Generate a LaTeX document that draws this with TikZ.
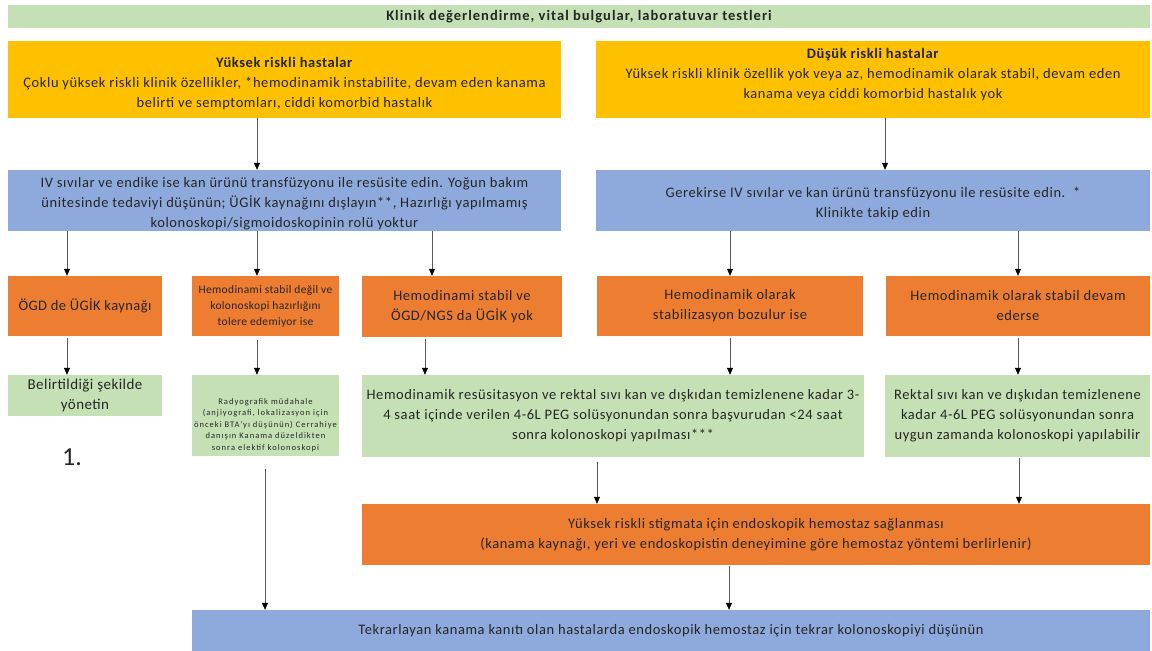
\documentclass[tikz,border=0pt]{standalone}
\usepackage{fontspec}
\setmainfont{Carlito}
\usepackage{tikz}
\usetikzlibrary{arrows.meta}

\definecolor{cGreen}{HTML}{C5E0B4}
\definecolor{cYellow}{HTML}{FFC000}
\definecolor{cBlue}{HTML}{8EA9DB}
\definecolor{cOrange}{HTML}{ED7D31}

\begin{document}
\begin{tikzpicture}[x=1pt,y=-1pt]
			\tikzset{box/.style = {shape=rectangle, inner sep=0pt, align=center,
					text=black!85, font=\fontsize{14.5}{20}\selectfont\addfontfeature{LetterSpace=4}}}
			\tikzset{edge/.style = {-{Triangle[width=6pt,length=7pt,color=black]},
					draw=black!65, line width=0.6pt}}

			\useasboundingbox (0,0) rectangle (1152,651);

			% vertices
			\node[box, fill=cGreen, minimum width=1142pt, minimum height=23pt,
				font=\bfseries\fontsize{14.5}{20}\selectfont\addfontfeature{LetterSpace=7}] (klinik) at (579,16.5)
				{Klinik değerlendirme, vital bulgular, laboratuvar testleri};

			\node[box, fill=cYellow, minimum width=553pt, minimum height=77pt] (yuksek) at (284.5,79.5)
				{\rule{0pt}{19pt}\textbf{Yüksek riskli hastalar}\\Çoklu yüksek riskli klinik özellikler, *hemodinamik instabilite, devam eden kanama\\belirti ve semptomları, ciddi komorbid hastalık};
			\node[box, fill=cYellow, minimum width=554pt, minimum height=77pt] (dusuk) at (873,79.5)
				{\textbf{Düşük riskli hastalar}\\Yüksek riskli klinik özellik yok veya az, hemodinamik olarak stabil, devam eden\\kanama veya ciddi komorbid hastalık yok\\[-7pt]\mbox{}};

			\node[box, fill=cBlue, minimum width=553pt, minimum height=61pt] (resL) at (284.5,200.5)
				{\rule{0pt}{17pt}IV sıvılar ve endike ise kan ürünü transfüzyonu ile resüsite edin. Yoğun bakım\\ünitesinde tedaviyi düşünün; ÜGİK kaynağını dışlayın**, Hazırlığı yapılmamış\\kolonoskopi/sigmoidoskopinin rolü yoktur};
			\node[box, fill=cBlue, minimum width=554pt, minimum height=61pt] (resR) at (873,200.5)
				{\rule{0pt}{17pt}Gerekirse IV sıvılar ve kan ürünü transfüzyonu ile resüsite edin.\ \ *\\Klinikte takip edin};

			\node[box, fill=cOrange, minimum width=154pt, minimum height=60pt,
				font=\fontsize{14.5}{20}\selectfont\addfontfeature{LetterSpace=3}] (ogd) at (85,306) {ÖGD de ÜGİK kaynağı};
			\node[box, fill=cOrange, minimum width=147pt, minimum height=60pt,
				font=\fontsize{11.5}{16}\selectfont\addfontfeature{LetterSpace=3}] (unstable) at (265.5,306)
				{Hemodinami stabil değil ve\\kolonoskopi hazırlığını\\tolere edemiyor ise};
			\node[box, fill=cOrange, minimum width=200pt, minimum height=61pt] (stable) at (462,306.5)
				{Hemodinami stabil ve\\ÖGD/NGS da ÜGİK yok};
			\node[box, fill=cOrange, minimum width=266pt, minimum height=60pt] (worse) at (730,306)
				{Hemodinamik olarak\\stabilizasyon bozulur ise};
			\node[box, fill=cOrange, minimum width=264pt, minimum height=60pt] (steady) at (1018,306)
				{Hemodinamik olarak stabil devam\\ederse};

			\node[box, fill=cGreen, minimum width=154pt, minimum height=41pt,
				font=\fontsize{15}{20}\selectfont\addfontfeature{LetterSpace=3}] (manage) at (85,395.5)
				{Belirtildiği şekilde\\yönetin};
			\node[box, fill=cGreen, minimum width=147pt, minimum height=81pt,
				font=\fontsize{8.5}{11.5}\selectfont\addfontfeature{LetterSpace=12}] (radio) at (265.5,415.5)
				{\rule{0pt}{25pt}Radyografik müdahale\\(anjiyografi, lokalizasyon için\\önceki BTA'yı düşünün) Cerrahiye\\danışın Kanama düzeldikten\\sonra elektif kolonoskopi};
			\node[box, fill=cGreen, minimum width=502pt, minimum height=82pt] (early) at (613,416)
				{Hemodinamik resüsitasyon ve rektal sıvı kan ve dışkıdan temizlenene kadar 3-\\4 saat içinde verilen 4-6L PEG solüsyonundan sonra başvurudan <24 saat\\sonra kolonoskopi yapılması***};
			\node[box, fill=cGreen, minimum width=265pt, minimum height=82pt] (later) at (1017.5,416)
				{Rektal sıvı kan ve dışkıdan temizlenene\\kadar 4-6L PEG solüsyonundan sonra\\uygun zamanda kolonoskopi yapılabilir};

			\node[text=black!85, font=\fontsize{26}{30}\selectfont] (num) at (72,457) {1.};

			\node[box, fill=cOrange, minimum width=788pt, minimum height=61pt] (hemostaz) at (756,534.5)
				{Yüksek riskli stigmata için endoskopik hemostaz sağlanması\\(kanama kaynağı, yeri ve endoskopistin deneyimine göre hemostaz yöntemi berlirlenir)};
			\node[box, fill=cBlue, minimum width=958pt, minimum height=41pt] (tekrar) at (671,630.5)
				{Tekrarlayan kanama kanıtı olan hastalarda endoskopik hemostaz için tekrar kolonoskopiyi düşünün};

			%edges
			\draw[edge] (yuksek.south -| 257,0) -- (resL.north -| 257,0);
			\draw[edge] (dusuk.south -| 885,0) -- (resR.north -| 885,0);

			\draw[edge] (resL.south -| 67,0) -- (ogd.north -| 67,0);
			\draw[edge] (resL.south -| 257,0) -- (unstable.north -| 257,0);
			\draw[edge] (resL.south -| 432,0) -- (stable.north -| 432,0);
			\draw[edge] (resR.south -| 730,0) -- (worse.north -| 730,0);
			\draw[edge] (resR.south -| 1018,0) -- (steady.north -| 1018,0);

			\draw[edge, shorten <=2pt] (ogd.south -| 67,0) -- (manage.north -| 67,0);
			\draw[edge, shorten <=4pt] (unstable.south -| 257,0) -- (radio.north -| 257,0);
			\draw[edge, shorten <=2pt] (stable.south -| 425,0) -- (early.north -| 425,0);
			\draw[edge, shorten <=2pt] (worse.south -| 730,0) -- (early.north -| 730,0);
			\draw[edge, shorten <=2pt] (steady.south -| 1018,0) -- (later.north -| 1018,0);

			\draw[edge, shorten <=5pt] (early.south -| 597,0) -- (hemostaz.north -| 597,0);
			\draw[edge, shorten <=1pt] (later.south -| 1019,0) -- (hemostaz.north -| 1019,0);
			\draw[edge, shorten <=13pt] (radio.south -| 265,0) -- (tekrar.north -| 265,0);
			\draw[edge, shorten <=1pt] (hemostaz.south -| 729,0) -- (tekrar.north -| 729,0);

\end{tikzpicture}
\end{document}
